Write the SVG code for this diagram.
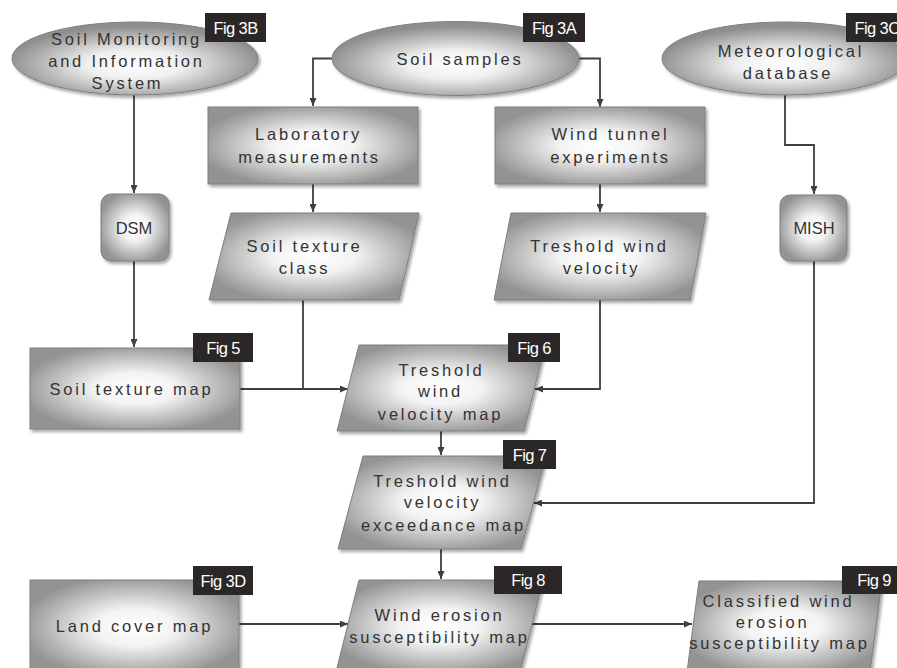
<svg xmlns="http://www.w3.org/2000/svg" width="897" height="668" viewBox="0 0 897 668">
<style>
.shape{stroke:#7e7e7e;stroke-width:1;filter:url(#sh)}
.box{fill:url(#gb)}
.ell{fill:url(#ge)}
.t{font-family:"Liberation Sans",Arial,sans-serif;font-size:16.5px;letter-spacing:2.8px;fill:#333333;text-anchor:middle}
.t2{font-family:"Liberation Sans",Arial,sans-serif;font-size:16.5px;fill:#333333;text-anchor:middle}
.fig{fill:#2b2727}
.ft{font-family:"Liberation Sans",Arial,sans-serif;font-size:16.5px;letter-spacing:-0.6px;fill:#ffffff;text-anchor:middle}
.c{fill:none;stroke:#3f3f3f;stroke-width:1.8}
.a{marker-end:url(#arr)}
</style>
<defs>
<radialGradient id="gb" cx="0.5" cy="0.5" r="0.55">
<stop offset="0" stop-color="#ffffff"/>
<stop offset="0.35" stop-color="#f3f3f3"/>
<stop offset="1" stop-color="#939393"/>
</radialGradient>
<radialGradient id="ge" cx="0.5" cy="0.58" r="0.52">
<stop offset="0" stop-color="#ffffff"/>
<stop offset="0.38" stop-color="#efefef"/>
<stop offset="1" stop-color="#8e8e8e"/>
</radialGradient>
<filter id="sh" x="-10%" y="-10%" width="130%" height="130%">
<feDropShadow dx="2" dy="2.5" stdDeviation="1.5" flood-color="#000" flood-opacity="0.35"/>
</filter>
<marker id="arr" markerUnits="userSpaceOnUse" markerWidth="8" markerHeight="7" refX="8" refY="3.5" orient="auto">
<path d="M0,0 L8,3.5 L0,7 z" fill="#3f3f3f"/>
</marker>
</defs>

<g id="connectors">
<path class="c a" d="M134,95 V193"/>
<path class="c a" d="M134,261 V347"/>
<path class="c a" d="M332,58.5 H313 V106"/>
<path class="c a" d="M579,58.5 H600 V107"/>
<path class="c a" d="M313,184 V212"/>
<path class="c a" d="M600,184 V212"/>
<path class="c a" d="M785,95 V145 H814 V194"/>
<path class="c" d="M303,300 V389"/>
<path class="c a" d="M240,389 H348"/>
<path class="c a" d="M600,300 V389 H535"/>
<path class="c a" d="M441,431 V455"/>
<path class="c a" d="M814,261 V503 H534"/>
<path class="c a" d="M441,549 V579"/>
<path class="c a" d="M239,624 H348"/>
<path class="c a" d="M532,624 H692"/>
</g>

<g id="n-smis">
<ellipse class="shape ell" cx="135" cy="58.5" rx="123" ry="36.5"/>
<text class="t" x="126.5" y="45">Soil Monitoring</text>
<text class="t" x="126.5" y="67">and Information</text>
<text class="t" x="127.5" y="89">System</text>
</g>
<g id="n-samples">
<ellipse class="shape ell" cx="455.5" cy="58.5" rx="123.5" ry="37"/>
<text class="t" x="460" y="65">Soil samples</text>
</g>
<g id="n-meteo">
<ellipse class="shape ell" cx="785" cy="58.5" rx="123" ry="36.5"/>
<text class="t" x="791" y="57">Meteorological</text>
<text class="t" x="788" y="79">database</text>
</g>
<g id="n-lab">
<rect class="shape box" x="208" y="107" width="210" height="77"/>
<text class="t" x="308.5" y="140">Laboratory</text>
<text class="t" x="309.5" y="163">measurements</text>
</g>
<g id="n-tunnel">
<rect class="shape box" x="495" y="107" width="210" height="77"/>
<text class="t" x="610.5" y="140">Wind tunnel</text>
<text class="t" x="610.5" y="163">experiments</text>
</g>
<g id="n-dsm">
<rect class="shape box" x="101" y="194" width="68" height="67" rx="10"/>
<text class="t2" x="134" y="234">DSM</text>
</g>
<g id="n-mish">
<rect class="shape box" x="780" y="195" width="67" height="66" rx="10"/>
<text class="t2" x="814" y="234">MISH</text>
</g>
<g id="n-stclass">
<polygon class="shape box" points="231,213 419,213 399,300 209,300"/>
<text class="t" x="304.5" y="252">Soil texture</text>
<text class="t" x="304.5" y="274">class</text>
</g>
<g id="n-twv">
<polygon class="shape box" points="511,213 706,213 690,300 494,300"/>
<text class="t" x="599.5" y="252">Treshold wind</text>
<text class="t" x="601.5" y="274">velocity</text>
</g>
<g id="n-stmap">
<rect class="shape box" x="30" y="348" width="210" height="81"/>
<text class="t" x="131.5" y="395">Soil texture map</text>
</g>
<g id="n-twvmap">
<polygon class="shape box" points="359,345 545,345 524,431 337,431"/>
<text class="t" x="441.5" y="376">Treshold</text>
<text class="t" x="440.5" y="397">wind</text>
<text class="t" x="440.5" y="420">velocity map</text>
</g>
<g id="n-exceed">
<polygon class="shape box" points="363,456 546,456 521,549 338,549"/>
<text class="t" x="442.5" y="487">Treshold wind</text>
<text class="t" x="442.5" y="508">velocity</text>
<text class="t" x="443.5" y="531">exceedance map</text>
</g>
<g id="n-landcover">
<rect class="shape box" x="30" y="580" width="209" height="95"/>
<text class="t" x="134.5" y="632">Land cover map</text>
</g>
<g id="n-wes">
<polygon class="shape box" points="359,580 543,580 520,672 336,672"/>
<text class="t" x="439.5" y="621">Wind erosion</text>
<text class="t" x="439.5" y="643">susceptibility map</text>
</g>
<g id="n-classified">
<polygon class="shape box" points="699,581 882,581 870,672 687,672"/>
<text class="t" x="778.5" y="607">Classified wind</text>
<text class="t" x="772.5" y="628">erosion</text>
<text class="t" x="779.5" y="649">susceptibility map</text>
</g>

<g id="fig-labels">
<g id="f3b"><rect class="fig" x="205" y="13" width="61" height="29"/><text class="ft" x="235.5" y="33.5">Fig 3B</text></g>
<g id="f3a"><rect class="fig" x="523" y="13" width="62" height="29"/><text class="ft" x="554" y="33.5">Fig 3A</text></g>
<g id="f3c"><rect class="fig" x="846" y="13" width="61" height="29"/><text class="ft" x="877" y="33.5">Fig 3C</text></g>
<g id="f5"><rect class="fig" x="193" y="333" width="60" height="29"/><text class="ft" x="223" y="353.5">Fig 5</text></g>
<g id="f6"><rect class="fig" x="508" y="333" width="52" height="29"/><text class="ft" x="534" y="353.5">Fig 6</text></g>
<g id="f7"><rect class="fig" x="503" y="440" width="53" height="29"/><text class="ft" x="529.5" y="460.5">Fig 7</text></g>
<g id="f3d"><rect class="fig" x="193" y="566" width="60" height="29"/><text class="ft" x="223" y="586.5">Fig 3D</text></g>
<g id="f8"><rect class="fig" x="494" y="566" width="68" height="28"/><text class="ft" x="528" y="586">Fig 8</text></g>
<g id="f9"><rect class="fig" x="842" y="566" width="64" height="28"/><text class="ft" x="874" y="586">Fig 9</text></g>
</g>
</svg>
